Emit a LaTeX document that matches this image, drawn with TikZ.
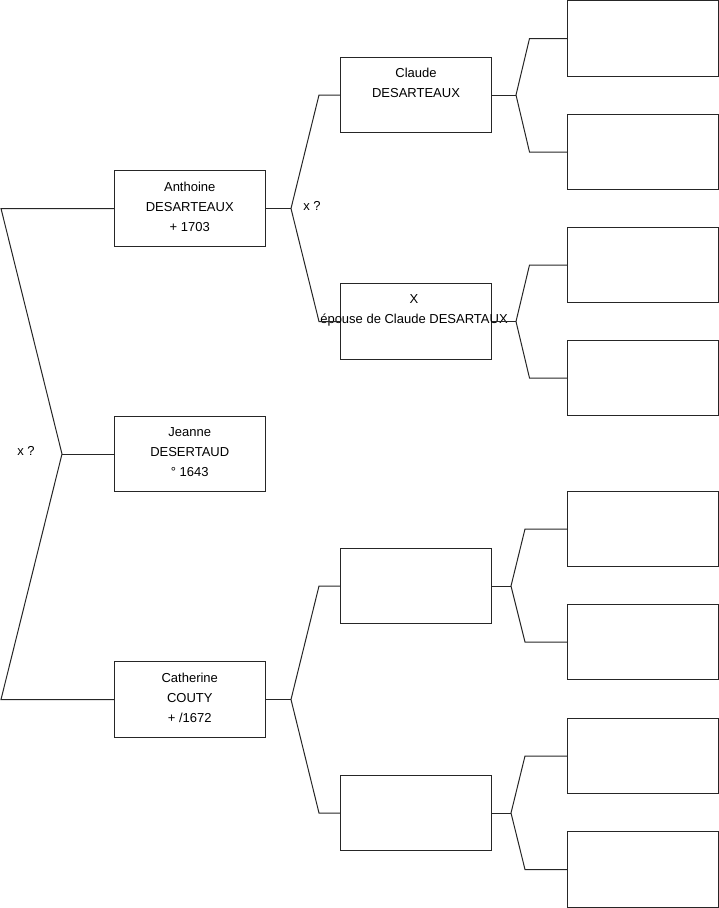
\documentclass[tikz,border=0pt]{standalone}
\usepackage{fontspec}
\setmainfont{Liberation Sans}
\begin{document}
\begin{tikzpicture}[x=1pt,y=-1pt,
  box/.style={draw=black!85,line width=1pt,minimum width=151pt,minimum height=75.5pt,inner sep=0pt},
  txt/.style={align=center,inner sep=0pt,font=\fontsize{13}{20}\selectfont},
  intxt/.style={txt,yshift=2pt},
  link/.style={draw=black!85,line width=1pt}]
\useasboundingbox (0,0) rectangle (719,908);
% generation 1
\node[box] (a) at (189.75,208.5) {};
\node[box] (b) at (189.75,454) {};
\node[box] (c) at (189.75,699.5) {};
\node[intxt] (at) at (a) {Anthoine\\DESARTEAUX\\+ 1703};
\node[intxt] (bt) at (b) {Jeanne\\DESERTAUD\\° 1643};
\node[intxt] (ct) at (c) {Catherine\\COUTY\\+ /1672};
% generation 2
\node[box] (d) at (416,95) {};
\node[box] (e) at (416,321.5) {};
\node[box] (f) at (416,586) {};
\node[box] (g) at (416,813) {};
\node[intxt] (dt) at (d) {Claude\\DESARTEAUX\\\mbox{}};
\node[intxt] (et) at ([xshift=-2pt]e) {X\\épouse de Claude DESARTAUX\\\mbox{}};
% generation 3
\foreach \n/\y in {r1/38.5,r2/152,r3/265,r4/378,r5/529,r6/642,r7/756,r8/869.5}
  \node[box] (\n) at (642.75,\y) {};
% labels
\node[txt] (x1) at (26,451) {x ?};
\node[txt] (x2) at (312,206) {x ?};
% junction coordinates
\coordinate (l1) at (1,208.5);
\coordinate (l2) at (1,699.5);
\coordinate (j0) at (62,454);
\coordinate (j1) at (291,208.5);
\coordinate (j1a) at (319,95);
\coordinate (j1b) at (319,321.5);
\coordinate (j2) at (291,699.5);
\coordinate (j2a) at (319,586);
\coordinate (j2b) at (319,813);
\coordinate (k1) at (516,95);
\coordinate (k1a) at (529.5,38.5);
\coordinate (k1b) at (529.5,152);
\coordinate (k2) at (516,321.5);
\coordinate (k2a) at (529.5,265);
\coordinate (k2b) at (529.5,378);
\coordinate (k3) at (511,586);
\coordinate (k3a) at (525,529);
\coordinate (k3b) at (525,642);
\coordinate (k4) at (511,813);
\coordinate (k4a) at (525,756);
\coordinate (k4b) at (525,869.5);
% connectors
\draw[link] (a.west) -- (l1) -- (j0) -- (l2) -- (c.west);
\draw[link] (j0) -- (b.west);
\draw[link] (a.east) -- (j1);
\draw[link] (d.west) -- (j1a) -- (j1) -- (j1b) -- (e.west);
\draw[link] (c.east) -- (j2);
\draw[link] (f.west) -- (j2a) -- (j2) -- (j2b) -- (g.west);
\draw[link] (d.east) -- (k1);
\draw[link] (r1.west) -- (k1a) -- (k1) -- (k1b) -- (r2.west);
\draw[link] (e.east) -- (k2);
\draw[link] (r3.west) -- (k2a) -- (k2) -- (k2b) -- (r4.west);
\draw[link] (f.east) -- (k3);
\draw[link] (r5.west) -- (k3a) -- (k3) -- (k3b) -- (r6.west);
\draw[link] (g.east) -- (k4);
\draw[link] (r7.west) -- (k4a) -- (k4) -- (k4b) -- (r8.west);
\end{tikzpicture}
\end{document}
